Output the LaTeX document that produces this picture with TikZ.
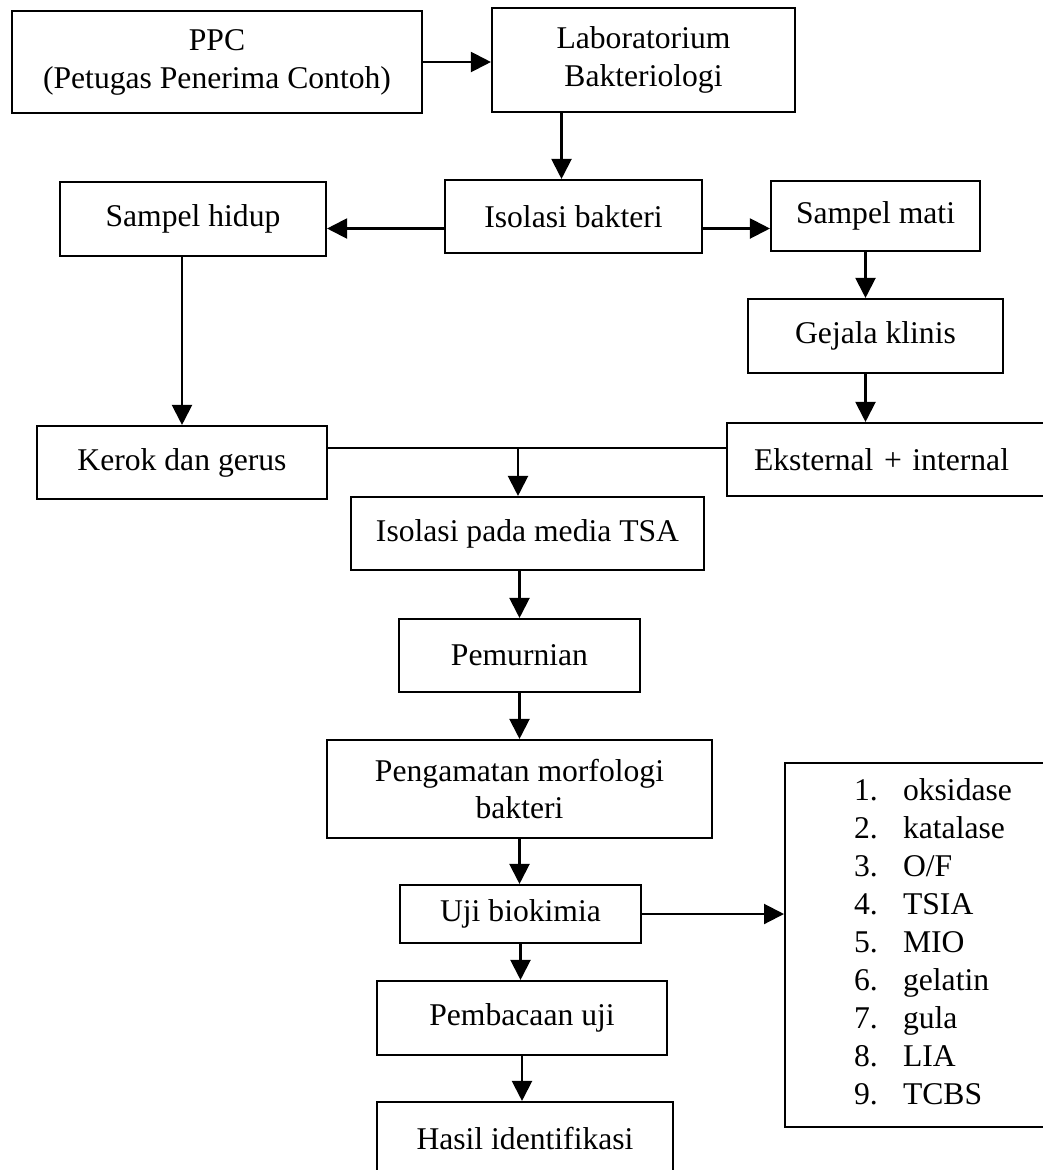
\documentclass[tikz,border=0pt]{standalone}
\usepackage{fontspec}
\setmainfont{Liberation Serif}
\usetikzlibrary{arrows.meta}

\begin{document}
\begin{tikzpicture}[x=0.25mm,y=-0.25mm,
  box/.style={draw,line width=1.5pt,inner sep=0pt,align=center,
    font=\fontsize{22.5}{27}\selectfont},
  flow/.style={-{Triangle[length=5mm,width=5mm]},line width=1.5pt}]

\useasboundingbox (0,0) rectangle (1043,1170);
\clip (0,0) rectangle (1043,1170);

\node[box,minimum width=102.5mm,minimum height=25.5mm] (ppc) at (217,62) {PPC\\(Petugas Penerima Contoh)};
\node[box,minimum width=75.75mm,minimum height=26mm] (lab) at (643.5,60) {Laboratorium\\Bakteriologi};
\node[box,minimum width=64.25mm,minimum height=18.25mm] (isolasi) at (573.5,216.5) {Isolasi bakteri};
\node[box,minimum width=66.5mm,minimum height=18.5mm] (hidup) at (193,219) {Sampel hidup};
\node[box,minimum width=52.25mm,minimum height=17.5mm] (mati) at (875.5,216) {Sampel mati};
\node[box,minimum width=63.75mm,minimum height=18.5mm] (gejala) at (875.5,336) {Gejala klinis};
\node[box,minimum width=72.5mm,minimum height=18.25mm] (kerok) at (182,462.5) {Kerok dan gerus};
\node[box,anchor=west,align=left,text width=75mm,inner xsep=6.75mm,minimum height=18.25mm] (eksternal) at (726,459.5) {Eksternal + internal};
\node[box,minimum width=88.25mm,minimum height=18.25mm] (tsa) at (527.5,533.5) {Isolasi pada media TSA};
\node[box,minimum width=60.25mm,minimum height=18.25mm] (murni) at (519.5,655.5) {Pemurnian};
\node[box,minimum width=96.25mm,minimum height=24.5mm] (morfologi) at (519.5,789) {Pengamatan morfologi\\bakteri};
\node[box,minimum width=60.25mm,minimum height=14.5mm] (uji) at (520.5,914) {Uji biokimia};
\node[box,minimum width=72.5mm,minimum height=18.5mm] (baca) at (522,1018) {Pembacaan uji};
\node[box,minimum width=74mm,minimum height=18.5mm] (hasil) at (525,1139) {Hasil identifikasi};
\node[box,anchor=north west,inner xsep=17.25mm,minimum height=91mm] (daftar) at (784,762)
  {\begin{tabular}{@{}p{12.25mm}@{}l@{\hspace{20mm}}}
   1. & oksidase\\ 2. & katalase\\ 3. & O/F\\ 4. & TSIA\\ 5. & MIO\\
   6. & gelatin\\ 7. & gula\\ 8. & LIA\\ 9. & TCBS
   \end{tabular}};

\coordinate (join) at (518,448);

\draw[flow] (ppc.east) -- (ppc.east -| lab.west);
\draw[flow] ([xshift=-3mm]isolasi.north |- lab.south) -- ([xshift=-3mm]isolasi.north);
\draw[flow] ([yshift=-3mm]isolasi.west) -- ([yshift=-3mm]isolasi.west -| hidup.east);
\draw[flow] ([yshift=-3mm]isolasi.east) -- ([yshift=-3mm]isolasi.east -| mati.west);
\draw[flow] ([xshift=-2.5mm]mati.south) -- ([xshift=-2.5mm]gejala.north);
\draw[flow] ([xshift=-2.5mm]gejala.south) -- ([xshift=-2.5mm]gejala.south |- eksternal.north);
\draw[flow] (hidup.south -| kerok.north) -- (kerok.north);
\draw[line width=1.5pt] (kerok.east |- join) -- (eksternal.west |- join);
\draw[flow] (join) -- (join |- tsa.north);
\draw[flow] (tsa.south -| murni.north) -- (murni.north);
\draw[flow] (murni.south) -- (morfologi.north);
\draw[flow] (morfologi.south) -- (morfologi.south |- uji.north);
\draw[flow] (uji.south) -- (uji.south |- baca.north);
\draw[flow] (baca.south) -- (baca.south |- hasil.north);
\draw[flow] (uji.east) -- (uji.east -| daftar.west);

\end{tikzpicture}
\end{document}
